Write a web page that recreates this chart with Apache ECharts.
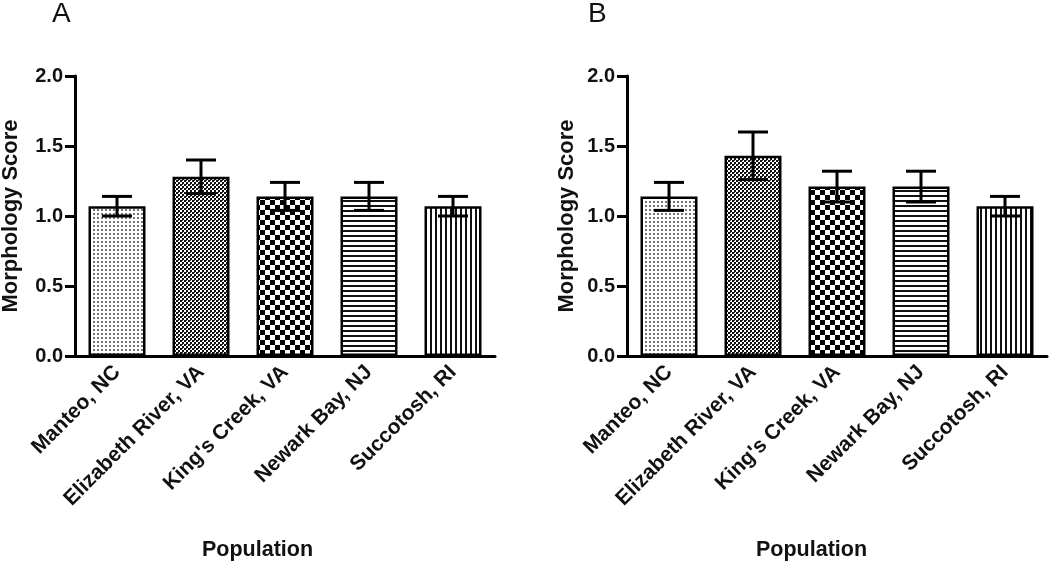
<!DOCTYPE html>
<html>
<head>
<meta charset="utf-8">
<script src="https://cdn.jsdelivr.net/npm/echarts@6/dist/echarts.min.js"></script>
<style>
  html, body { margin: 0; padding: 0; background: #fff; }
  #chart { width: 1050px; height: 575px; }
</style>
</head>
<body>
<div id="chart"></div>
<script>
// data
const categories = ['Manteo, NC', 'Elizabeth River, VA', "King's Creek, VA", 'Newark Bay, NJ', 'Succotosh, RI']
const meansA = [1.07, 1.28, 1.14, 1.14, 1.07]
const semA = [0.07, 0.12, 0.10, 0.10, 0.07]
const meansB = [1.14, 1.43, 1.21, 1.21, 1.07]
const semB = [0.10, 0.17, 0.11, 0.11, 0.07]
const yTicks = [0, 0.5, 1.0, 1.5, 2.0]

const FONT = '"Liberation Sans", Arial, sans-serif'

// small canvas patterns for the bar fills
const makePattern = (size, draw) => {
  const c = document.createElement('canvas')
  c.width = size
  c.height = size
  const ctx = c.getContext('2d')
  ctx.fillStyle = '#fff'
  ctx.fillRect(0, 0, size, size)
  draw(ctx)
  return { image: c, repeat: 'repeat' }
}

const patterns = [
  makePattern(4, ctx => { ctx.fillStyle = '#777'; ctx.fillRect(1, 1, 2, 2) }),
  makePattern(4, ctx => { ctx.fillStyle = '#111'; ctx.fillRect(0, 0, 2, 2); ctx.fillRect(2, 2, 2, 2); ctx.fillStyle = '#444'; ctx.fillRect(2, 0, 1, 1) }),
  makePattern(10, ctx => { ctx.fillStyle = '#000'; ctx.fillRect(0, 0, 5, 5); ctx.fillRect(5, 5, 5, 5) }),
  makePattern(5, ctx => { ctx.fillStyle = '#111'; ctx.fillRect(0, 0, 5, 2) }),
  makePattern(5, ctx => { ctx.fillStyle = '#111'; ctx.fillRect(0, 0, 2, 5) })
]

const grids = [
  { left: 75, top: 76, width: 420, height: 280, outerBoundsMode: 'none', containLabel: false },
  { left: 627, top: 76, width: 420, height: 280, outerBoundsMode: 'none', containLabel: false }
]

const makeXAxis = idx => ({
  type: 'category',
  gridIndex: idx,
  data: categories,
  axisLine: { lineStyle: { color: '#000', width: 3 } },
  axisTick: { alignWithLabel: true, length: 10, lineStyle: { color: '#000', width: 3 } },
  axisLabel: {
    rotate: 45,
    margin: 13,
    interval: 0,
    color: '#111',
    fontFamily: FONT,
    fontWeight: 'bold',
    fontSize: 21
  },
  splitLine: { show: false }
})

const makeYAxis = (idx, gap) => ({
  type: 'value',
  gridIndex: idx,
  min: yTicks[0],
  max: yTicks[yTicks.length - 1],
  interval: 0.5,
  name: 'Morphology Score',
  nameLocation: 'middle',
  nameGap: gap,
  nameTextStyle: { color: '#111', fontFamily: FONT, fontWeight: 'bold', fontSize: 22 },
  axisLine: { show: true, lineStyle: { color: '#000', width: 3 } },
  axisTick: { show: true, length: 10, lineStyle: { color: '#000', width: 3 } },
  axisLabel: {
    margin: 12,
    color: '#111',
    fontFamily: FONT,
    fontWeight: 'bold',
    fontSize: 20,
    formatter: v => v.toFixed(1)
  },
  splitLine: { show: false }
})

const makeBars = (idx, means) => ({
  type: 'bar',
  xAxisIndex: idx,
  yAxisIndex: idx,
  barWidth: 57,
  data: means.map((v, i) => ({
    value: v,
    itemStyle: { color: patterns[i], borderColor: '#000', borderWidth: 2.5 }
  })),
  silent: true
})

const makeErrors = (idx, means, sems) => ({
  type: 'custom',
  xAxisIndex: idx,
  yAxisIndex: idx,
  z: 10,
  silent: true,
  data: means.map((v, i) => [i, v - sems[i], v + sems[i]]),
  renderItem: (params, api) => {
    const lo = api.coord([api.value(0), api.value(1)])
    const hi = api.coord([api.value(0), api.value(2)])
    const half = 15
    const style = { stroke: '#000', lineWidth: 3 }
    return {
      type: 'group',
      children: [
        { type: 'line', shape: { x1: hi[0], y1: hi[1], x2: lo[0], y2: lo[1] }, style },
        { type: 'line', shape: { x1: hi[0] - half, y1: hi[1], x2: hi[0] + half, y2: hi[1] }, style },
        { type: 'line', shape: { x1: lo[0] - half, y1: lo[1], x2: lo[0] + half, y2: lo[1] }, style }
      ]
    }
  }
})

const chart = echarts.init(document.getElementById('chart'))

const option = {
  backgroundColor: '#fff',
  animation: false,
  grid: grids,
  xAxis: [makeXAxis(0), makeXAxis(1)],
  yAxis: [makeYAxis(0, 53), makeYAxis(1, 49)],
  series: [
    makeBars(0, meansA),
    makeErrors(0, meansA, semA),
    makeBars(1, meansB),
    makeErrors(1, meansB, semB)
  ],
  graphic: [
    { type: 'text', left: 52, top: 0, style: { text: 'A', font: '28px ' + FONT, fill: '#111' } },
    { type: 'text', left: 588, top: 0, style: { text: 'B', font: '28px ' + FONT, fill: '#111' } },
    { type: 'text', left: 202, top: 539, style: { text: 'Population', font: 'bold 21.5px ' + FONT, fill: '#111' } },
    { type: 'text', left: 756, top: 539, style: { text: 'Population', font: 'bold 21.5px ' + FONT, fill: '#111' } }
  ]
}

chart.setOption(option)
window.addEventListener('resize', () => chart.resize())
</script>
</body>
</html>
